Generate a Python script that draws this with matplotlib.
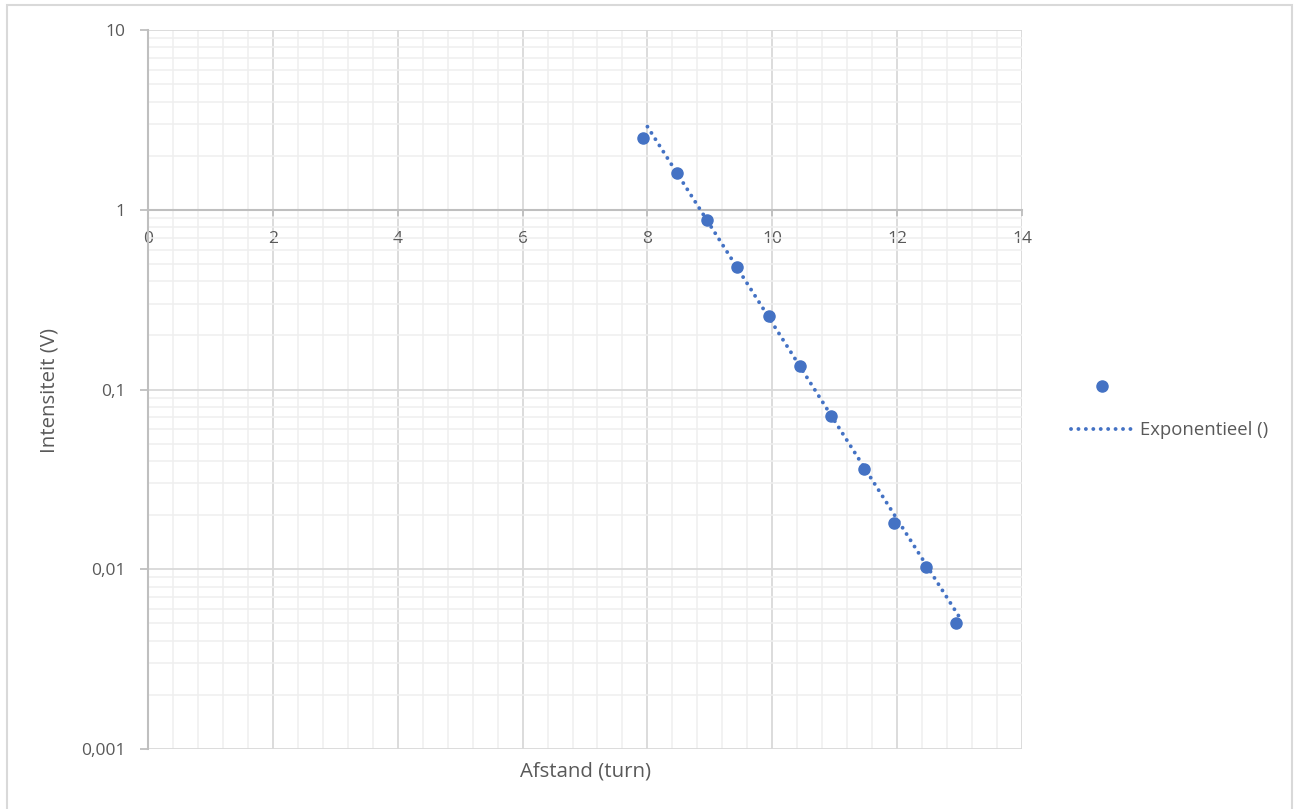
import numpy as np
import matplotlib.pyplot as plt
from matplotlib.lines import Line2D
from matplotlib.patches import Rectangle
from matplotlib.ticker import MultipleLocator, LogLocator, FixedFormatter, FixedLocator

plt.rcParams['font.family'] = ['Open Sans', 'DejaVu Sans']

# measured points
afstand = [7.93, 8.48, 8.95, 9.44, 9.95, 10.45, 10.94, 11.47, 11.95, 12.46, 12.94]
intensiteit = [2.50, 1.60, 0.879, 0.483, 0.257, 0.1355, 0.0708, 0.0363, 0.0182, 0.0103, 0.00504]

# exponential trendline end points
trend_x = [8.0, 13.0]
trend_y = [2.90, 0.0054]

y_ticks = [0.001, 0.01, 0.1, 1, 10]
y_labels = ['0,001', '0,01', '0,1', '1', '10']

blue = '#4472C4'
txt = '#595959'
axis_grey = '#bfbfbf'
major_grey = '#d9d9d9'
minor_grey = '#efefef'
fs = 12.5

W, H = 1297, 809
fig = plt.figure(figsize=(W / 100, H / 100), dpi=100)
ax = fig.add_axes([148 / W, 1 - 749 / H, 874 / W, 719 / H])

ax.set_yscale('log')
ax.set_xlim(0, 14)
ax.set_ylim(0.001, 10)

ax.plot(trend_x, trend_y, color=blue, lw=2.8, linestyle=(0, (0.01, 1.9)),
        dash_capstyle='round', zorder=3)
ax.plot(afstand, intensiteit, 'o', color=blue, ms=8, zorder=4)

# axes: x axis crosses at y = 1
for s in ['top', 'right']:
    ax.spines[s].set_visible(False)
ax.spines['bottom'].set_position(('data', 1))
ax.spines['bottom'].set_color(axis_grey)
ax.spines['bottom'].set_linewidth(1.5)
ax.spines['left'].set_color(axis_grey)
ax.spines['left'].set_linewidth(1.5)

ax.xaxis.set_major_locator(MultipleLocator(2))
ax.xaxis.set_minor_locator(MultipleLocator(0.4))
ax.yaxis.set_major_locator(FixedLocator(y_ticks))
ax.yaxis.set_major_formatter(FixedFormatter(y_labels))
ax.yaxis.set_minor_locator(LogLocator(base=10, subs=np.arange(2, 10)))
ax.yaxis.set_minor_formatter(plt.NullFormatter())

ax.tick_params(axis='x', which='major', direction='out', length=4, width=1.3,
               color=axis_grey, labelcolor=txt, labelsize=fs, pad=11)
ax.tick_params(axis='y', which='major', direction='out', length=6, width=1.3,
               color=axis_grey, labelcolor=txt, labelsize=fs, pad=10)
ax.tick_params(which='minor', length=0)

ax.grid(True, which='major', color=major_grey, lw=1.3, zorder=0)
ax.grid(True, which='minor', color=minor_grey, lw=1.1, zorder=0)
ax.set_axisbelow(True)

fig.text(50 / W, 1 - 390 / H, 'Intensiteit (V)', rotation=90, ha='center',
         va='center', color=txt, fontsize=14.7)
fig.text(585 / W, 1 - 772 / H, 'Afstand (turn)', ha='center', va='center',
         color=txt, fontsize=14.7)

handles = [Line2D([], [], color=blue, marker='o', ms=8, ls='none'),
           Line2D([], [], color=blue, lw=2.8, linestyle=(0, (0.01, 1.9)),
                  dash_capstyle='round')]
fig.legend(handles, [' ', 'Exponentieel ()'], loc='center left',
           bbox_to_anchor=(1062 / W, 1 - 409 / H), frameon=False,
           fontsize=13.3, labelcolor=txt, handlelength=3.3, handletextpad=0.42,
           labelspacing=1.35, borderpad=0)

# chart border
fig.patches.append(Rectangle((7 / W, -0.02), (1292 - 7) / W, 1.02 - 5 / H,
                             transform=fig.transFigure, fill=False,
                             edgecolor=major_grey, lw=1.5))

fig.savefig('out.png', dpi=100)
